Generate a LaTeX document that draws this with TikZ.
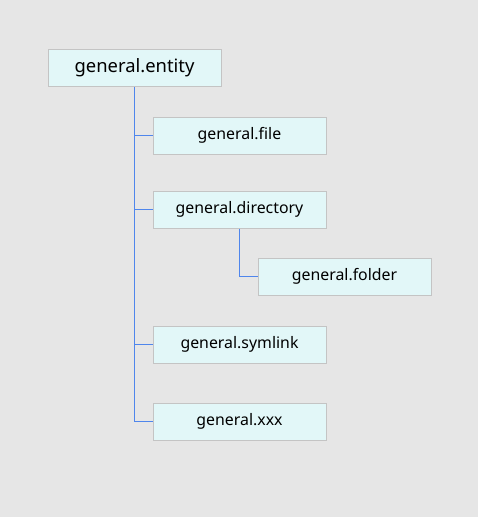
\documentclass[tikz,border=0pt]{standalone}
\usepackage{fontspec}
\setmainfont{Noto Sans}
\definecolor{bgGray}{HTML}{E6E6E6}
\definecolor{boxFill}{HTML}{E2F7F8}
\definecolor{boxLine}{HTML}{C4C4C4}
\definecolor{linkBlue}{HTML}{4F86EC}
\tikzset{every picture/.style={line width=0.75pt}}
\tikzset{
  typebox/.style={draw=boxLine, fill=boxFill, minimum width=129.75pt, minimum height=27.75pt, inner sep=0pt, font=\fontsize{11.9}{14}\selectfont},
  rootbox/.style={typebox, font=\fontsize{13.8}{16}\selectfont},
  link/.style={draw=linkBlue, line width=0.8pt}
}
\begin{document}
\begin{tikzpicture}[x=0.75pt,y=0.75pt,yscale=-1,xscale=1]
%set diagram left start at 0, and has height of 517
\fill[bgGray] (0,0) rectangle (478,517);
\useasboundingbox (0,0) rectangle (478,517);

% Text Node
\node [rootbox] (entity) at (134.5,68) {general.entity};
% Text Node
\node [typebox] (file) at (239.5,135.5) {general.file};
% Text Node
\node [typebox] (directory) at (239.5,209.5) {general.directory};
% Text Node
\node [typebox] (folder) at (344.5,276.5) {general.folder};
% Text Node
\node [typebox] (symlink) at (239.5,344.5) {general.symlink};
% Text Node
\node [typebox] (xxx) at (239.5,421.5) {general.xxx};

%Straight Lines
\draw [link] (entity.south) |- (file.west);
\draw [link] (entity.south) |- (directory.west);
\draw [link] (entity.south) |- (symlink.west);
\draw [link] (entity.south) |- (xxx.west);
%Straight Lines
\draw [link] (directory.south) |- (folder.west);

\end{tikzpicture}
\end{document}
